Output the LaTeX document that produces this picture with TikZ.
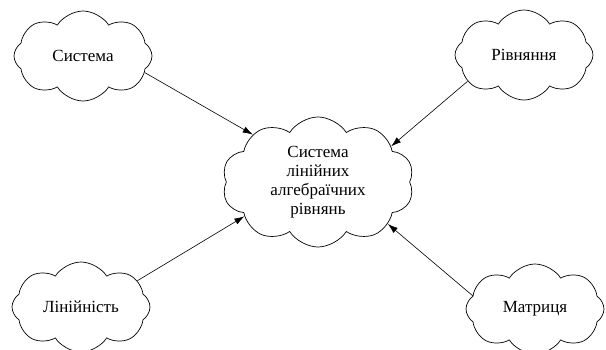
\documentclass[tikz,border=0pt]{standalone}
\usepackage{fontspec}
\setmainfont{Liberation Serif}
\usetikzlibrary{shapes.symbols, arrows.meta, positioning}
\tikzstyle{bigcloud} = [cloud, cloud puffs=10, cloud puff arc=115, cloud ignores aspect, minimum width=192pt, minimum height=130pt, draw=black, line width=0.7pt, align=center, text centered]
\tikzstyle{smallcloud} = [cloud, cloud puffs=8, cloud puff arc=115, cloud ignores aspect, minimum width=138pt, minimum height=90pt, draw=black, line width=0.7pt, text centered]
\tikzstyle{arrow} = [line width=0.6pt, -{Latex[length=10pt, width=6.5pt]}]

\begin{document}
\begin{tikzpicture}[x=1pt, y=-1pt, node distance=220pt, every node/.style={font=\fontsize{17}{19}\selectfont}]
\useasboundingbox (0,0) rectangle (606,349);

\node (slar) [bigcloud] at (318,182) {Система\\лінійних\\алгебраїчних\\рівнянь};
\node (sys) [smallcloud, left of=slar, xshift=-15pt, yshift=126pt] {Система};
\node (eq) [smallcloud, right of=slar, xshift=-14pt, yshift=127pt] {Рівняння};
\node (lin) [smallcloud, left of=slar, xshift=-17pt, yshift=-125pt] {Лінійність};
\node (mat) [smallcloud, right of=slar, xshift=-3pt, yshift=-127pt] {Матриця};

\draw [arrow] (sys.-15) -- (slar.144);
\draw [arrow] (eq.205) -- (slar.26);
\draw [arrow] (lin.25) -- (slar.205);
\draw [arrow] (mat.168) -- (slar.-31);
\end{tikzpicture}
\end{document}
